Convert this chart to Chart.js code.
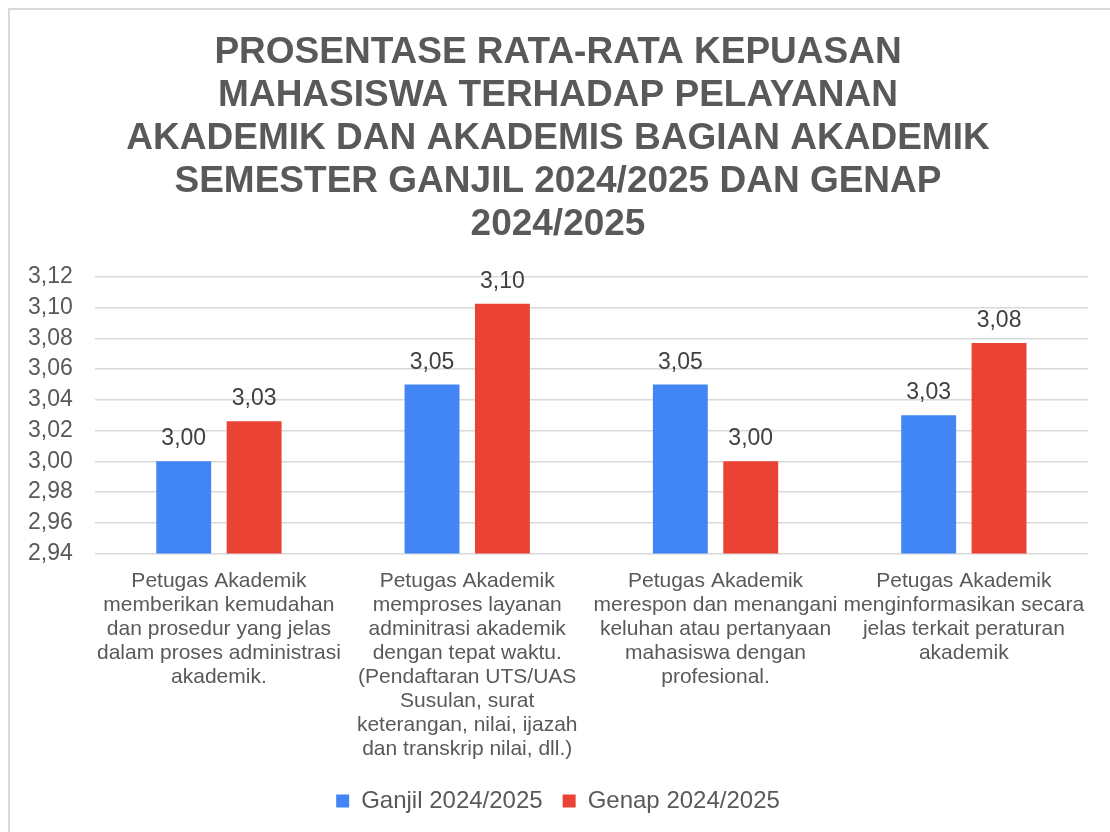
<!DOCTYPE html>
<html>
<head>
<meta charset="utf-8">
<script src="https://cdn.jsdelivr.net/npm/chart.js@4.4.1/dist/chart.umd.min.js"></script>
<style>
    html, body { margin: 0; padding: 0; background: #fff; overflow: hidden; }
    #frame { position: absolute; left: 8px; top: 8px; width: 1200px; height: 900px; border-left: 2px solid #d9d9d9; border-top: 2px solid #d9d9d9; }
    #wrap { position: absolute; left: 0; top: 0; width: 1110px; height: 832px; }
</style>
</head>
<body>
<div id="frame"></div>
<div id="wrap"><canvas id="kepuasanChart"></canvas></div>
<script>
    const titleLines = [
        'PROSENTASE RATA-RATA KEPUASAN',
        'MAHASISWA TERHADAP PELAYANAN',
        'AKADEMIK DAN AKADEMIS BAGIAN AKADEMIK',
        'SEMESTER GANJIL 2024/2025 DAN GENAP',
        '2024/2025'
    ];
    const categories = [
        ['Petugas Akademik', 'memberikan kemudahan', 'dan prosedur yang jelas', 'dalam proses administrasi', 'akademik.'],
        ['Petugas Akademik', 'memproses layanan', 'adminitrasi akademik', 'dengan tepat waktu.', '(Pendaftaran UTS/UAS', 'Susulan, surat', 'keterangan, nilai, ijazah', 'dan transkrip nilai, dll.)'],
        ['Petugas Akademik', 'merespon dan menangani', 'keluhan atau pertanyaan', 'mahasiswa dengan', 'profesional.'],
        ['Petugas Akademik', 'menginformasikan secara', 'jelas terkait peraturan', 'akademik']
    ];
    const ganjil = [3.00, 3.05, 3.05, 3.03];
    const genap = [3.026, 3.1025, 3.00, 3.077];
    const seriesNames = ['Ganjil 2024/2025', 'Genap 2024/2025'];
    const yMin = 2.94;
    const yMax = 3.12;
    const yStep = 0.02;

    const blue = '#4285f4';
    const red = '#ea4335';
    const grey = '#595959';

    function fmt(v) {
        return v.toFixed(2).replace('.', ',');
    }

    // draws the value above each bar
    const valueLabels = {
        id: 'valueLabels',
        afterDatasetsDraw(chart) {
            const ctx = chart.ctx;
            ctx.save();
            ctx.font = '23px "Liberation Sans", Arial, sans-serif';
            ctx.fillStyle = '#404040';
            ctx.textAlign = 'center';
            ctx.textBaseline = 'alphabetic';
            chart.data.datasets.forEach((ds, i) => {
                chart.getDatasetMeta(i).data.forEach((bar, j) => {
                    ctx.fillText(fmt(ds.data[j]), bar.x, bar.y - 16);
                });
            });
            ctx.restore();
        }
    };

    Chart.defaults.font.family = '"Liberation Sans", Arial, sans-serif';
    Chart.defaults.color = grey;

    new Chart(document.getElementById('kepuasanChart'), {
        type: 'bar',
        data: {
            labels: categories,
            datasets: [
                {label: seriesNames[0], data: ganjil, backgroundColor: blue, barPercentage: 0.78, categoryPercentage: 0.567},
                {label: seriesNames[1], data: genap, backgroundColor: red, barPercentage: 0.78, categoryPercentage: 0.567}
            ]
        },
        options: {
            responsive: true,
            maintainAspectRatio: false,
            animation: false,
            layout: {
                padding: {top: 31, left: 28, right: 22, bottom: 9}
            },
            scales: {
                x: {
                    grid: {display: false},
                    border: {display: false},
                    ticks: {
                        font: {size: 21, lineHeight: 1.14},
                        color: grey,
                        maxRotation: 0,
                        autoSkip: false,
                        padding: 8
                    }
                },
                y: {
                    min: yMin,
                    max: yMax,
                    grid: {color: '#d9d9d9', lineWidth: 1.5, drawTicks: false},
                    border: {display: false},
                    ticks: {
                        stepSize: yStep,
                        autoSkip: false,
                        crossAlign: 'far',
                        font: {size: 23},
                        color: grey,
                        padding: 11,
                        callback: v => fmt(v)
                    }
                }
            },
            plugins: {
                title: {
                    display: true,
                    text: titleLines,
                    color: grey,
                    font: {size: 37, weight: 'bold', lineHeight: 1.162},
                    padding: {top: 0, bottom: 31}
                },
                legend: {
                    position: 'bottom',
                    labels: {
                        color: grey,
                        font: {size: 24},
                        boxWidth: 13,
                        boxHeight: 13,
                        padding: 20
                    }
                },
                tooltip: {enabled: false}
            }
        },
        plugins: [valueLabels]
    });
</script>
</body>
</html>
